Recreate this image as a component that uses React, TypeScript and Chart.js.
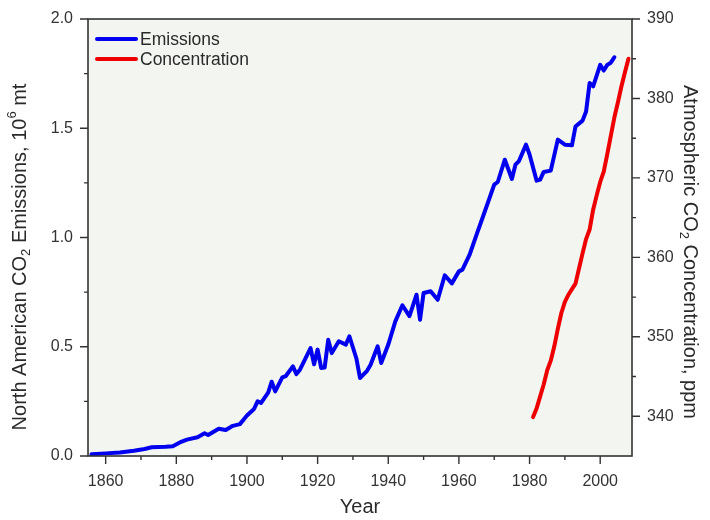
import { useEffect, useRef } from "react";
import { Chart, registerables } from "chart.js";

Chart.register(...registerables);

// North American CO2 emissions (10^6 mt) by year
const emissionYears = [
  1856, 1860, 1864, 1868, 1871, 1873, 1877, 1879, 1881, 1883, 1886, 1888, 1889,
  1892, 1894, 1896, 1898, 1900, 1902, 1903, 1904, 1906, 1907, 1908, 1910, 1911,
  1913, 1914, 1915, 1918, 1919, 1920, 1921, 1922, 1923, 1924, 1926, 1928, 1929,
  1931, 1932, 1934, 1935, 1937, 1938, 1940, 1942, 1944, 1946, 1948, 1949, 1950,
  1952, 1954, 1956, 1958, 1960, 1961, 1963, 1965, 1967, 1970, 1971, 1973, 1975,
  1976, 1977, 1979, 1980, 1982, 1983, 1984, 1986, 1988, 1990, 1992, 1993, 1995,
  1996, 1997, 1998, 2000, 2001, 2002, 2003, 2004,
];
const emissionValues = [
  0.008, 0.012, 0.016, 0.024, 0.032, 0.04, 0.042, 0.045, 0.062, 0.075, 0.086, 0.104, 0.096,
  0.125, 0.119, 0.138, 0.146, 0.185, 0.215, 0.25, 0.243, 0.29, 0.34, 0.296, 0.36, 0.366,
  0.41, 0.375, 0.395, 0.494, 0.42, 0.487, 0.403, 0.405, 0.532, 0.471, 0.525, 0.51, 0.548,
  0.445, 0.357, 0.39, 0.418, 0.502, 0.426, 0.51, 0.616, 0.69, 0.64, 0.738, 0.624, 0.746,
  0.754, 0.715, 0.827, 0.79, 0.845, 0.853, 0.92, 1.013, 1.104, 1.242, 1.254, 1.356, 1.268,
  1.333, 1.35, 1.425, 1.38, 1.26, 1.265, 1.3, 1.306, 1.448, 1.425, 1.422, 1.508, 1.535,
  1.577, 1.707, 1.692, 1.79, 1.764, 1.79, 1.8, 1.825,
];

// Atmospheric CO2 concentration (ppm) by year
const concentrationYears = [
  1981, 1982, 1983, 1984, 1985, 1986, 1987, 1988, 1989, 1990, 1991, 1992, 1993, 1994,
  1995, 1996, 1997, 1998, 1999, 2000, 2001, 2002, 2003, 2004, 2005, 2006, 2007, 2008,
];
const concentrationValues = [
  339.9, 341.0, 342.5, 344.0, 345.8, 347.0, 348.8, 351.0, 353.0, 354.4, 355.3, 356.0, 356.7, 358.6,
  360.5, 362.3, 363.5, 366.0, 367.8, 369.5, 370.8, 373.0, 375.3, 377.6, 379.5, 381.5, 383.3, 385.0,
];

// Axis ticks
const yearTicks = [1860, 1880, 1900, 1920, 1940, 1960, 1980, 2000];
const emissionTicks = [0, 0.5, 1.0, 1.5, 2.0];
const concentrationTicks = [340, 350, 360, 370, 380, 390];

const seriesNames = ["Emissions", "Concentration"];
const xTitle = "Year";

const FONT = "'Liberation Sans', Arial, sans-serif";
const BLUE = "#0000ee";
const RED = "#ee0000";
const AXIS = "#333333";
const TEXT = "#2a2a2a";

type Seg = { t: string; sub?: boolean; sup?: boolean };

const leftTitle: Seg[] = [
  { t: "North American CO" },
  { t: "2", sub: true },
  { t: " Emissions, 10" },
  { t: "6", sup: true },
  { t: " mt" },
];
const rightTitle: Seg[] = [
  { t: "Atmospheric CO" },
  { t: "2", sub: true },
  { t: " Concentration, ppm" },
];

function drawRich(
  ctx: CanvasRenderingContext2D,
  segs: Seg[],
  cx: number,
  cy: number,
  angle: number,
  size: number
) {
  const small = Math.round(size * 0.65);
  const fontFor = (s: Seg) => `${s.sub || s.sup ? small : size}px ${FONT}`;
  let total = 0;
  const widths = segs.map((s) => {
    ctx.font = fontFor(s);
    const w = ctx.measureText(s.t).width;
    total += w;
    return w;
  });
  ctx.save();
  ctx.translate(cx, cy);
  ctx.rotate(angle);
  ctx.fillStyle = TEXT;
  ctx.textBaseline = "middle";
  ctx.textAlign = "left";
  let x = -total / 2;
  segs.forEach((s, i) => {
    ctx.font = fontFor(s);
    const dy = s.sub ? size * 0.32 : s.sup ? -size * 0.38 : 0;
    ctx.fillText(s.t, x, dy);
    x += widths[i];
  });
  ctx.restore();
}

const decorPlugin = {
  id: "decor",
  beforeDraw(chart: any) {
    const { ctx, chartArea: a } = chart;
    ctx.save();
    ctx.fillStyle = "#ffffff";
    ctx.fillRect(0, 0, chart.width, chart.height);
    ctx.fillStyle = "#f3f5f1";
    ctx.fillRect(a.left, a.top, a.right - a.left, a.bottom - a.top);
    ctx.restore();
  },
  afterDatasetsDraw(chart: any) {
    const { ctx, chartArea: a, scales } = chart;
    const xs = scales.x;
    const yl = scales.y;
    const yr = scales.y1;
    ctx.save();

    // frame
    ctx.strokeStyle = AXIS;
    ctx.lineWidth = 1.6;
    ctx.strokeRect(a.left, a.top, a.right - a.left, a.bottom - a.top);

    ctx.lineWidth = 1.4;
    ctx.beginPath();
    const major = 8;
    const minor = 4;
    // x ticks (major + midpoints)
    yearTicks.forEach((v, i) => {
      const px = xs.getPixelForValue(v);
      ctx.moveTo(px, a.bottom);
      ctx.lineTo(px, a.bottom + major);
      const mids = [v - 10, v + 10];
      mids.forEach((m) => {
        if (m > xs.min && m < xs.max && (i === 0 || m > v)) {
          const mp = xs.getPixelForValue(m);
          ctx.moveTo(mp, a.bottom);
          ctx.lineTo(mp, a.bottom + minor);
        }
      });
    });
    // left y ticks
    emissionTicks.forEach((v, i) => {
      const py = yl.getPixelForValue(v);
      ctx.moveTo(a.left, py);
      ctx.lineTo(a.left - major, py);
      if (i < emissionTicks.length - 1) {
        const mp = yl.getPixelForValue((v + emissionTicks[i + 1]) / 2);
        ctx.moveTo(a.left, mp);
        ctx.lineTo(a.left - minor, mp);
      }
    });
    // right y ticks
    concentrationTicks.forEach((v, i) => {
      const py = yr.getPixelForValue(v);
      ctx.moveTo(a.right, py);
      ctx.lineTo(a.right + major, py);
      if (i < concentrationTicks.length - 1) {
        const mp = yr.getPixelForValue((v + concentrationTicks[i + 1]) / 2);
        ctx.moveTo(a.right, mp);
        ctx.lineTo(a.right + minor, mp);
      }
    });
    ctx.stroke();

    // legend inside the plot
    const colors = [BLUE, RED];
    seriesNames.forEach((name, i) => {
      const y = a.top + 20 + i * 20;
      ctx.strokeStyle = colors[i];
      ctx.lineWidth = 4;
      ctx.lineCap = "round";
      ctx.beginPath();
      ctx.moveTo(a.left + 9, y);
      ctx.lineTo(a.left + 48, y);
      ctx.stroke();
      ctx.fillStyle = TEXT;
      ctx.font = `17.5px ${FONT}`;
      ctx.textBaseline = "middle";
      ctx.textAlign = "left";
      ctx.fillText(name, a.left + 52, y + 1);
    });

    // axis titles
    drawRich(ctx, leftTitle, 20, 257, -Math.PI / 2, 20);
    drawRich(ctx, rightTitle, 690, 252, Math.PI / 2, 20);
    ctx.font = `20px ${FONT}`;
    ctx.fillStyle = TEXT;
    ctx.textAlign = "center";
    ctx.textBaseline = "middle";
    ctx.fillText(xTitle, (a.left + a.right) / 2, 507);

    ctx.restore();
  },
};

export default function App() {
  const ref = useRef<HTMLCanvasElement | null>(null);

  useEffect(() => {
    if (!ref.current) return;
    const tickFont = { family: FONT, size: 16 };
    const chart = new Chart(ref.current, {
      type: "line",
      data: {
        datasets: [
          {
            label: seriesNames[0],
            data: emissionYears.map((x, i) => ({ x, y: emissionValues[i] })),
            borderColor: BLUE,
            borderWidth: 4,
            pointRadius: 0,
            tension: 0,
            borderJoinStyle: "round",
            borderCapStyle: "round",
            yAxisID: "y",
          },
          {
            label: seriesNames[1],
            data: concentrationYears.map((x, i) => ({ x, y: concentrationValues[i] })),
            borderColor: RED,
            borderWidth: 4,
            pointRadius: 0,
            tension: 0,
            borderJoinStyle: "round",
            borderCapStyle: "round",
            yAxisID: "y1",
          },
        ],
      },
      options: {
        responsive: false,
        animation: false,
        events: [],
        layout: { padding: { top: 19, left: 0, right: 0, bottom: 0 } },
        plugins: { legend: { display: false }, tooltip: { enabled: false } },
        scales: {
          x: {
            type: "linear",
            min: 1855,
            max: 2009,
            grid: { display: false, drawTicks: true, tickLength: 8 },
            border: { display: false },
            afterBuildTicks: (s: any) => {
              s.ticks = yearTicks.map((value) => ({ value }));
            },
            afterFit: (s: any) => {
              s.height = 64;
            },
            ticks: {
              font: tickFont,
              color: AXIS,
              padding: 8,
              maxRotation: 0,
              callback: (v: any) => String(v),
            },
          },
          y: {
            type: "linear",
            position: "left",
            min: 0,
            max: 2,
            grid: { display: false, drawTicks: true, tickLength: 8 },
            border: { display: false },
            afterBuildTicks: (s: any) => {
              s.ticks = emissionTicks.map((value) => ({ value }));
            },
            afterFit: (s: any) => {
              s.width = 88;
            },
            ticks: {
              font: tickFont,
              color: AXIS,
              padding: 7,
              callback: (v: any) => Number(v).toFixed(1),
            },
          },
          y1: {
            type: "linear",
            position: "right",
            min: 335,
            max: 390,
            grid: { display: false, drawTicks: true, tickLength: 8 },
            border: { display: false },
            afterBuildTicks: (s: any) => {
              s.ticks = concentrationTicks.map((value) => ({ value }));
            },
            afterFit: (s: any) => {
              s.width = 78;
            },
            ticks: {
              font: tickFont,
              color: AXIS,
              padding: 7,
              callback: (v: any) => String(v),
            },
          },
        },
      },
      plugins: [decorPlugin],
    } as any);
    return () => chart.destroy();
  }, []);

  return (
    <div style={{ position: "absolute", left: 0, top: 0, width: 710, height: 520, background: "#fff" }}>
      <canvas ref={ref} width={710} height={520} style={{ display: "block" }} />
    </div>
  );
}
